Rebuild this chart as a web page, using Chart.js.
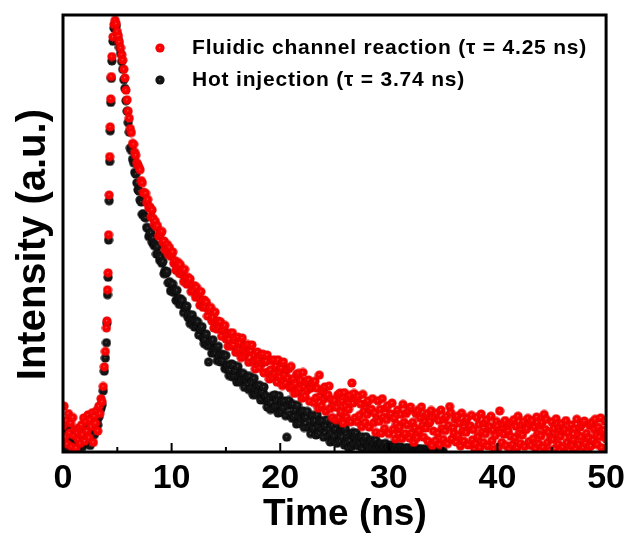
<!DOCTYPE html>
<html>
<head>
<meta charset="utf-8">
<script src="https://cdn.jsdelivr.net/npm/chart.js@4.4.0/dist/chart.umd.min.js"></script>
<style>
  html, body { margin: 0; padding: 0; background: #fff; }
</style>
</head>
<body>
<canvas id="graficoPL" width="631" height="537"></canvas>
<script>
// Tempo (ns) - passo de 0.1 ns, mais fino na subida do pulso
const tempo = [
  0,0.1,0.2,0.3,0.4,0.5,0.6,0.7,0.8,0.9,
  1,1.1,1.2,1.3,1.4,1.5,1.6,1.7,1.8,1.9,
  2,2.1,2.2,2.3,2.4,2.5,2.6,2.7,2.8,2.9,
  3,3.1,3.2,3.3,3.4,3.5,3.6,3.7,3.8,3.9,
  4,4.05,4.1,4.15,4.2,4.25,4.3,4.35,4.4,4.45,4.5,
  4.6,4.7,4.8,4.9,
  5,5.1,5.2,5.3,5.4,5.5,5.6,5.7,5.8,5.9,
  6,6.1,6.2,6.3,6.4,6.5,6.6,6.7,6.8,6.9,
  7,7.1,7.2,7.3,7.4,7.5,7.6,7.7,7.8,7.9,
  8,8.1,8.2,8.3,8.4,8.5,8.6,8.7,8.8,8.9,
  9,9.1,9.2,9.3,9.4,9.5,9.6,9.7,9.8,9.9,
  10,10.1,10.2,10.3,10.4,10.5,10.6,10.7,10.8,10.9,
  11,11.1,11.2,11.3,11.4,11.5,11.6,11.7,11.8,11.9,
  12,12.1,12.2,12.3,12.4,12.5,12.6,12.7,12.8,12.9,
  13,13.1,13.2,13.3,13.4,13.5,13.6,13.7,13.8,13.9,
  14,14.1,14.2,14.3,14.4,14.5,14.6,14.7,14.8,14.9,
  15,15.1,15.2,15.3,15.4,15.5,15.6,15.7,15.8,15.9,
  16,16.1,16.2,16.3,16.4,16.5,16.6,16.7,16.8,16.9,
  17,17.1,17.2,17.3,17.4,17.5,17.6,17.7,17.8,17.9,
  18,18.1,18.2,18.3,18.4,18.5,18.6,18.7,18.8,18.9,
  19,19.1,19.2,19.3,19.4,19.5,19.6,19.7,19.8,19.9,
  20,20.1,20.2,20.3,20.4,20.5,20.6,20.7,20.8,20.9,
  21,21.1,21.2,21.3,21.4,21.5,21.6,21.7,21.8,21.9,
  22,22.1,22.2,22.3,22.4,22.5,22.6,22.7,22.8,22.9,
  23,23.1,23.2,23.3,23.4,23.5,23.6,23.7,23.8,23.9,
  24,24.1,24.2,24.3,24.4,24.5,24.6,24.7,24.8,24.9,
  25,25.1,25.2,25.3,25.4,25.5,25.6,25.7,25.8,25.9,
  26,26.1,26.2,26.3,26.4,26.5,26.6,26.7,26.8,26.9,
  27,27.1,27.2,27.3,27.4,27.5,27.6,27.7,27.8,27.9,
  28,28.1,28.2,28.3,28.4,28.5,28.6,28.7,28.8,28.9,
  29,29.1,29.2,29.3,29.4,29.5,29.6,29.7,29.8,29.9,
  30,30.1,30.2,30.3,30.4,30.5,30.6,30.7,30.8,30.9,
  31,31.1,31.2,31.3,31.4,31.5,31.6,31.7,31.8,31.9,
  32,32.1,32.2,32.3,32.4,32.5,32.6,32.7,32.8,32.9,
  33,33.1,33.2,33.3,33.4,33.5,33.6,33.7,33.8,33.9,
  34,34.1,34.2,34.3,34.4,34.5,34.6,34.7,34.8,34.9,
  35,35.1,35.2,35.3,35.4,35.5,35.6,35.7,35.8,35.9,
  36,36.1,36.2,36.3,36.4,36.5,36.6,36.7,36.8,36.9,
  37,37.1,37.2,37.3,37.4,37.5,37.6,37.7,37.8,37.9,
  38,38.1,38.2,38.3,38.4,38.5,38.6,38.7,38.8,38.9,
  39,39.1,39.2,39.3,39.4,39.5,39.6,39.7,39.8,39.9,
  40,40.1,40.2,40.3,40.4,40.5,40.6,40.7,40.8,40.9,
  41,41.1,41.2,41.3,41.4,41.5,41.6,41.7,41.8,41.9,
  42,42.1,42.2,42.3,42.4,42.5,42.6,42.7,42.8,42.9,
  43,43.1,43.2,43.3,43.4,43.5,43.6,43.7,43.8,43.9,
  44,44.1,44.2,44.3,44.4,44.5,44.6,44.7,44.8,44.9,
  45,45.1,45.2,45.3,45.4,45.5,45.6,45.7,45.8,45.9,
  46,46.1,46.2,46.3,46.4,46.5,46.6,46.7,46.8,46.9,
  47,47.1,47.2,47.3,47.4,47.5,47.6,47.7,47.8,47.9,
  48,48.1,48.2,48.3,48.4,48.5,48.6,48.7,48.8,48.9,
  49,49.1,49.2,49.3,49.4,49.5,49.6,49.7,49.8,49.9,
  50
];

// Intensidade (contagens normalizadas, pico ~ 1000) - canal fluídico
const canalFluidico = [
  60,105,35,72,18,88,44,66,12,79,
  38,52,9,45,28,55,20,62,40,78,
  25,70,48,85,33,74,58,90,22,82,
  66,95,48,105,88,122,115,150,195,230,
  284,300,371,410,497,588,676,744,808,859,905,
  950,978,988,980,
  962,952,938,925,909,897,876,856,828,806,
  780,764,740,731,706,704,686,679,662,657,
  651,646,621,616,594,592,592,571,578,559,
  561,538,554,535,521,528,515,518,494,500,
  501,505,480,483,463,469,475,452,468,448,
  453,458,432,438,416,425,434,409,429,407,
  415,390,418,398,384,400,386,396,367,380,
  370,381,354,377,355,363,336,367,345,331,
  348,332,343,311,326,324,331,300,308,284,
  320,297,281,300,285,298,265,282,281,290,
  259,269,242,258,272,242,273,245,259,228,
  229,263,235,250,216,261,235,219,243,227,
  246,205,230,231,245,207,221,190,210,229,
  211,193,221,203,224,181,206,208,222,183,
  167,188,209,171,211,180,197,160,211,182,
  172,192,152,206,176,158,189,169,191,147,
  196,152,168,134,156,178,137,180,145,164,
  123,182,149,128,162,142,165,116,146,149,
  158,113,162,124,146,100,176,128,106,142,
  121,149,93,128,131,151,100,120,79,107,
  118,74,102,131,79,135,92,116,66,136,
  105,80,123,98,130,69,158,112,134,78,
  122,69,128,84,110,58,132,93,68,111,
  86,117,57,96,98,122,67,89,45,76,
  117,70,98,43,122,80,54,100,74,106,
  42,84,87,112,52,77,30,64,96,41,
  57,86,31,109,68,42,88,62,95,32,
  103,44,68,22,55,88,33,95,49,78,
  103,61,34,81,55,88,25,66,70,95,
  15,48,81,26,89,43,72,17,96,54,
  29,75,49,82,19,61,104,90,30,55,
  43,75,23,82,38,66,14,89,49,25,
  69,45,77,16,56,60,84,28,51,7,
  19,79,35,63,10,87,46,22,66,42,
  74,14,54,58,82,26,50,6,38,70,
  60,11,94,45,22,64,41,72,15,53,
  48,6,36,67,17,74,33,59,10,82,
  43,20,62,39,70,13,51,54,77,24,
  65,15,72,31,57,8,80,42,19,61,
  37,68,11,86,52,75,22,45,4,33,
  69,29,54,8,76,40,18,58,36,65,
  11,47,51,72,22,44,4,33,62,15,
  28,53,7,75,39,17,57,35,64,10,
  71,21,43,3,32,61,14,68,28,53,
  75,39,17,57,35,78,10,46,50,71,
  30
];

// Injeção a quente (depois de ~35 ns fica abaixo do eixo)
const injecaoQuente = [
  30,12,55,20,40,8,35,50,25,15,
  45,22,30,10,38,18,42,28,12,50,
  35,20,58,30,45,15,52,38,60,40,
  55,70,62,80,95,100,108,140,185,215,
  250,295,360,400,485,575,665,735,800,855,895,
  940,970,980,975,
  955,942,926,912,894,876,852,832,804,780,
  754,732,696,690,670,662,640,636,616,600,
  597,577,572,544,545,538,536,514,512,493,
  498,502,480,490,472,475,453,470,452,439,
  447,432,436,408,415,409,413,387,390,369,
  368,385,365,370,347,370,351,338,351,338,
  347,319,331,329,334,308,315,294,304,314,
  300,286,301,287,298,268,282,281,287,261,
  248,258,270,243,206,244,253,226,257,235,
  226,237,209,242,220,206,224,210,222,191,
  221,190,199,175,188,202,172,199,174,186,
  160,196,174,160,180,166,180,148,166,167,
  173,143,173,148,160,131,169,146,131,152,
  138,153,119,138,138,149,118,128,103,118,
  122,97,113,129,100,131,105,119,89,129,
  106,92,115,101,117,83,34,106,118,86,
  109,77,109,82,96,64,107,82,66,91,
  76,94,56,79,79,93,57,70,42,60,
  84,55,72,39,85,59,43,70,54,72,
  34,58,60,74,38,52,23,42,61,28,
  37,53,20,65,40,25,50,35,53,16,
  54,22,34,9,26,42,13,45,19,35,
  44,25,14,33,21,35,7,25,25,35,
  4,15,25,7,27,12,21,4,28,14,
  7,18,11,19,4,13,14,20,5,11,
  13,4,16,9,5,12,7,13,3,8,
  9,12,5,8,2,6,10,3,10,5,
  8,2,10,6,3,7,5,8,2,6,
  5,7,3,6,2,4,6,3,5,2,
  3,5,2,4,1,3,4,2,3,1,
  2
];

const rotulos = ['Fluidic channel reaction (\u03c4 = 4.25 ns)', 'Hot injection (\u03c4 = 3.74 ns)'];
const ticksX = [0, 10, 20, 30, 40, 50];
const ticksMenoresX = [5, 15, 25, 35, 45];

const fonte = '"Liberation Sans", Arial, sans-serif';

// marcador tipo "esfera" do Origin (brilho pequeno no centro)
function esfera(brilho, cor, borda) {
  const c = document.createElement('canvas');
  c.width = 10; c.height = 10;
  const g = c.getContext('2d');
  const grad = g.createRadialGradient(4.8, 4.8, 0.1, 5, 5, 4.7);
  grad.addColorStop(0, brilho);
  grad.addColorStop(0.18, cor);
  grad.addColorStop(0.8, cor);
  grad.addColorStop(1, borda);
  g.fillStyle = grad;
  g.beginPath();
  g.arc(5, 5, 4.6, 0, Math.PI * 2);
  g.fill();
  return c;
}
const esferaVermelha = esfera('#ff9a9a', '#fa0000', '#d00000');
const esferaPreta = esfera('#808080', '#141414', '#000000');

const pontos = (serie) => serie.map((v, i) => ({ x: tempo[i], y: v }));

// moldura, ticks para dentro e legenda
const moldura = {
  id: 'moldura',
  afterDraw(chart) {
    const { ctx, chartArea: a, scales } = chart;
    ctx.save();
    ctx.strokeStyle = '#000';
    ctx.lineWidth = 2;
    ticksX.forEach(v => {
      const px = scales.x.getPixelForValue(v);
      ctx.beginPath(); ctx.moveTo(px, a.bottom); ctx.lineTo(px, a.bottom - 9); ctx.stroke();
    });
    ticksMenoresX.forEach(v => {
      const px = scales.x.getPixelForValue(v);
      ctx.beginPath(); ctx.moveTo(px, a.bottom); ctx.lineTo(px, a.bottom - 5); ctx.stroke();
    });
    ctx.lineWidth = 3;
    ctx.strokeRect(a.left, a.top, a.right - a.left, a.bottom - a.top);

    // legenda
    const marcadores = [esferaVermelha, esferaPreta];
    const linhasY = [48, 80];
    ctx.font = 'bold 21px ' + fonte;
    ctx.letterSpacing = '0.8px';
    ctx.fillStyle = '#000';
    ctx.textBaseline = 'middle';
    chart.data.datasets.forEach((ds, i) => {
      ctx.drawImage(marcadores[i], 160 - 5, linhasY[i] - 5);
      ctx.fillText(ds.label, 192, linhasY[i]);
    });
    ctx.restore();
  }
};

const ctx = document.getElementById('graficoPL').getContext('2d');

new Chart(ctx, {
  type: 'scatter',
  data: {
    datasets: [
      { label: rotulos[0], data: pontos(canalFluidico), pointStyle: esferaVermelha, pointRadius: 5, clip: 0 },
      { label: rotulos[1], data: pontos(injecaoQuente), pointStyle: esferaPreta, pointRadius: 5, clip: 0 }
    ]
  },
  options: {
    responsive: false,
    animation: false,
    layout: { padding: { top: 15, right: 23, left: 0, bottom: 0 } },
    plugins: { legend: { display: false }, tooltip: { enabled: false } },
    scales: {
      x: {
        type: 'linear', min: 0, max: 50,
        afterBuildTicks: s => { s.ticks = ticksX.map(v => ({ value: v })); },
        ticks: { color: '#000', padding: 6, maxRotation: 0, font: { family: fonte, size: 34, weight: 'bold' } },
        grid: { display: false, drawTicks: false },
        border: { display: false },
        title: {
          display: true, text: '\u00a0\u00a0Time (ns)', color: '#000', padding: 0,
          font: { family: fonte, size: 37, weight: 'bold' }
        },
        afterFit: s => { s.height = 85; }
      },
      y: {
        min: 0, max: 1000,
        ticks: { display: false },
        grid: { display: false, drawTicks: false },
        border: { display: false },
        title: {
          display: true, text: 'Intensity (a.u.)\u00a0\u00a0', color: '#000', padding: { top: 10, bottom: 0 },
          font: { family: fonte, size: 40, weight: 'bold' }
        },
        afterFit: s => { s.width = 63; }
      }
    }
  },
  plugins: [moldura]
});
</script>
</body>
</html>
